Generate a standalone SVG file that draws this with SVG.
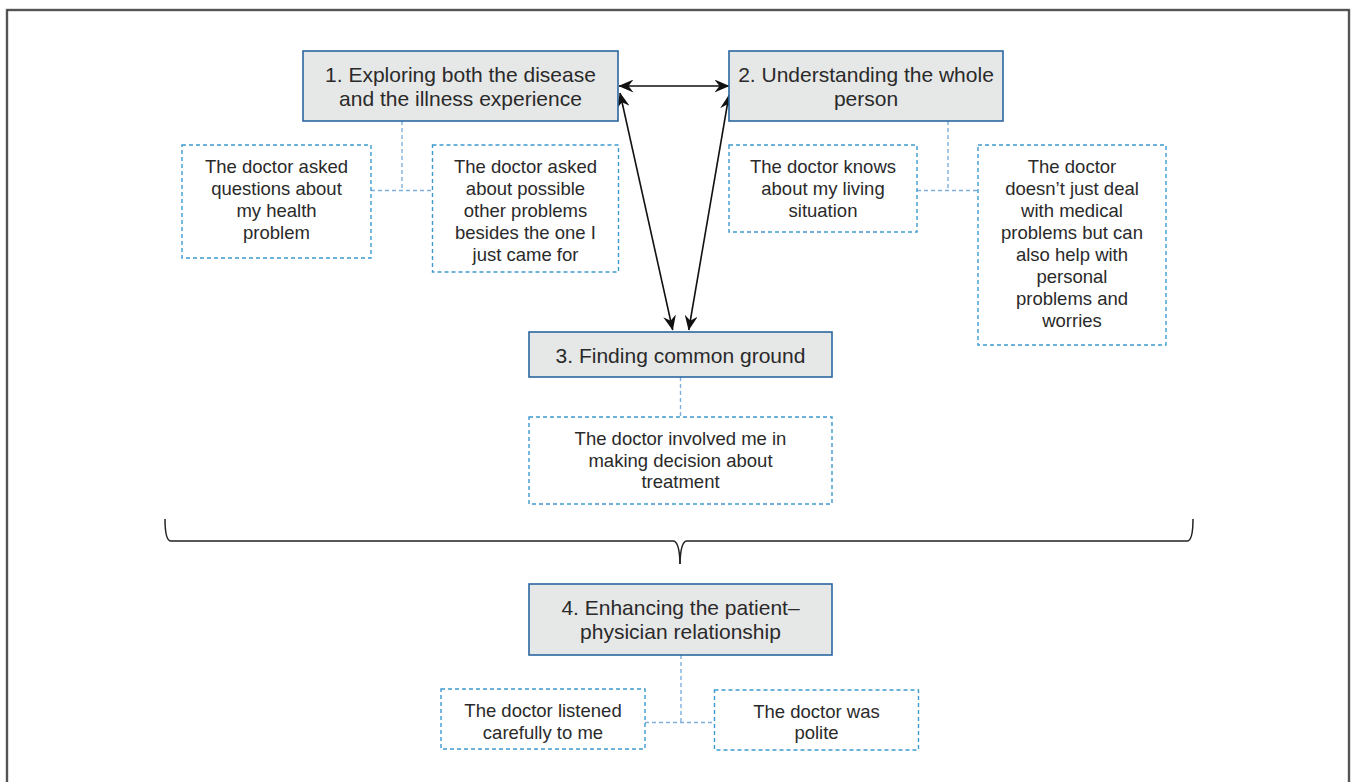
<svg xmlns="http://www.w3.org/2000/svg" width="1353" height="782" viewBox="0 0 1353 782">
<defs>
<style>
.main{fill:#e6e7e7;stroke:#2b67a0;stroke-width:1.6}
.sub{fill:#ffffff;stroke:#3d9ad1;stroke-width:1.4;stroke-dasharray:4 3}
.dc{fill:none;stroke:#7fb0dd;stroke-width:1.4;stroke-dasharray:4 3}
.arr{fill:none;stroke:#111;stroke-width:1.6;marker-start:url(#ah);marker-end:url(#ah)}
.ht{font-family:"Liberation Sans",Arial,sans-serif;font-size:21px;fill:#2a2a2a;text-anchor:middle}
.st{font-family:"Liberation Sans",Arial,sans-serif;font-size:18.5px;fill:#2a2a2a;text-anchor:middle}
</style>
<marker id="ah" viewBox="0 0 15 13" refX="14.5" refY="6.5" markerWidth="15" markerHeight="13" markerUnits="userSpaceOnUse" orient="auto-start-reverse">
<path d="M0,0 L15,6.5 L0,13 L5,6.5 z" fill="#111"/>
</marker>
</defs>
<rect width="1353" height="782" fill="#ffffff"/>
<path d="M7,790 L7,10 L1349,10 L1349,790" fill="none" stroke="#bbbbbb" stroke-width="3"/>
<path d="M7,790 L7,10 L1349,10 L1349,790" fill="none" stroke="#333333" stroke-width="1.5"/>

<g id="connectors">
<path class="dc" d="M402,121 V190.5 M371,190.5 H432"/>
<path class="dc" d="M948,121 V190.5 M917,190.5 H978"/>
<path class="dc" d="M680.5,377 V417"/>
<path class="dc" d="M681,655 V722.5 M645,722.5 H714"/>
<line class="arr" x1="619" y1="86" x2="729" y2="86"/>
<line class="arr" x1="620" y1="93" x2="672.7" y2="330"/>
<line class="arr" x1="729" y1="95" x2="688.7" y2="330"/>
<path d="M165,519 Q165,541 171,541 L673,541 Q679.5,541 680,564" fill="none" stroke="#222" stroke-width="1.5"/>
<path d="M1193,519 Q1193,541 1187,541 L687,541 Q680.5,541 680,564" fill="none" stroke="#222" stroke-width="1.5"/>
</g>

<g id="n1">
<rect class="main" x="303" y="51" width="315" height="70"/>
<text class="ht" x="460.5" y="82">1. Exploring both the disease</text>
<text class="ht" x="460.5" y="106">and the illness experience</text>
</g>
<g id="n2">
<rect class="main" x="729" y="51" width="274" height="70"/>
<text class="ht" x="866" y="82">2. Understanding the whole</text>
<text class="ht" x="866" y="106">person</text>
</g>
<g id="n3">
<rect class="main" x="529" y="332" width="303" height="45"/>
<text class="ht" x="680.5" y="363">3. Finding common ground</text>
</g>
<g id="n4">
<rect class="main" x="529" y="584" width="303" height="71"/>
<text class="ht" x="680.5" y="615">4. Enhancing the patient–</text>
<text class="ht" x="680.5" y="639">physician relationship</text>
</g>

<g id="s1a">
<rect class="sub" x="182" y="145" width="189" height="113"/>
<text class="st" x="276.5" y="173">The doctor asked</text>
<text class="st" x="276.5" y="195">questions about</text>
<text class="st" x="276.5" y="217">my health</text>
<text class="st" x="276.5" y="239">problem</text>
</g>
<g id="s1b">
<rect class="sub" x="432.5" y="145" width="186" height="127"/>
<text class="st" x="525.5" y="173">The doctor asked</text>
<text class="st" x="525.5" y="195">about possible</text>
<text class="st" x="525.5" y="217">other problems</text>
<text class="st" x="525.5" y="239">besides the one I</text>
<text class="st" x="525.5" y="261">just came for</text>
</g>
<g id="s2a">
<rect class="sub" x="729" y="145" width="188" height="87"/>
<text class="st" x="823" y="173">The doctor knows</text>
<text class="st" x="823" y="195">about my living</text>
<text class="st" x="823" y="217">situation</text>
</g>
<g id="s2b">
<rect class="sub" x="978" y="145" width="188" height="200"/>
<text class="st" x="1072" y="173">The doctor</text>
<text class="st" x="1072" y="195">doesn’t just deal</text>
<text class="st" x="1072" y="217">with medical</text>
<text class="st" x="1072" y="239">problems but can</text>
<text class="st" x="1072" y="261">also help with</text>
<text class="st" x="1072" y="283">personal</text>
<text class="st" x="1072" y="305">problems and</text>
<text class="st" x="1072" y="327">worries</text>
</g>
<g id="s3">
<rect class="sub" x="529" y="417" width="303" height="87"/>
<text class="st" x="680.5" y="445">The doctor involved me in</text>
<text class="st" x="680.5" y="466.5">making decision about</text>
<text class="st" x="680.5" y="488">treatment</text>
</g>
<g id="s4a">
<rect class="sub" x="441" y="689" width="204" height="60"/>
<text class="st" x="543" y="717">The doctor listened</text>
<text class="st" x="543" y="738.5">carefully to me</text>
</g>
<g id="s4b">
<rect class="sub" x="714.5" y="690" width="204" height="60"/>
<text class="st" x="816.5" y="717.5">The doctor was</text>
<text class="st" x="816.5" y="739">polite</text>
</g>
</svg>
